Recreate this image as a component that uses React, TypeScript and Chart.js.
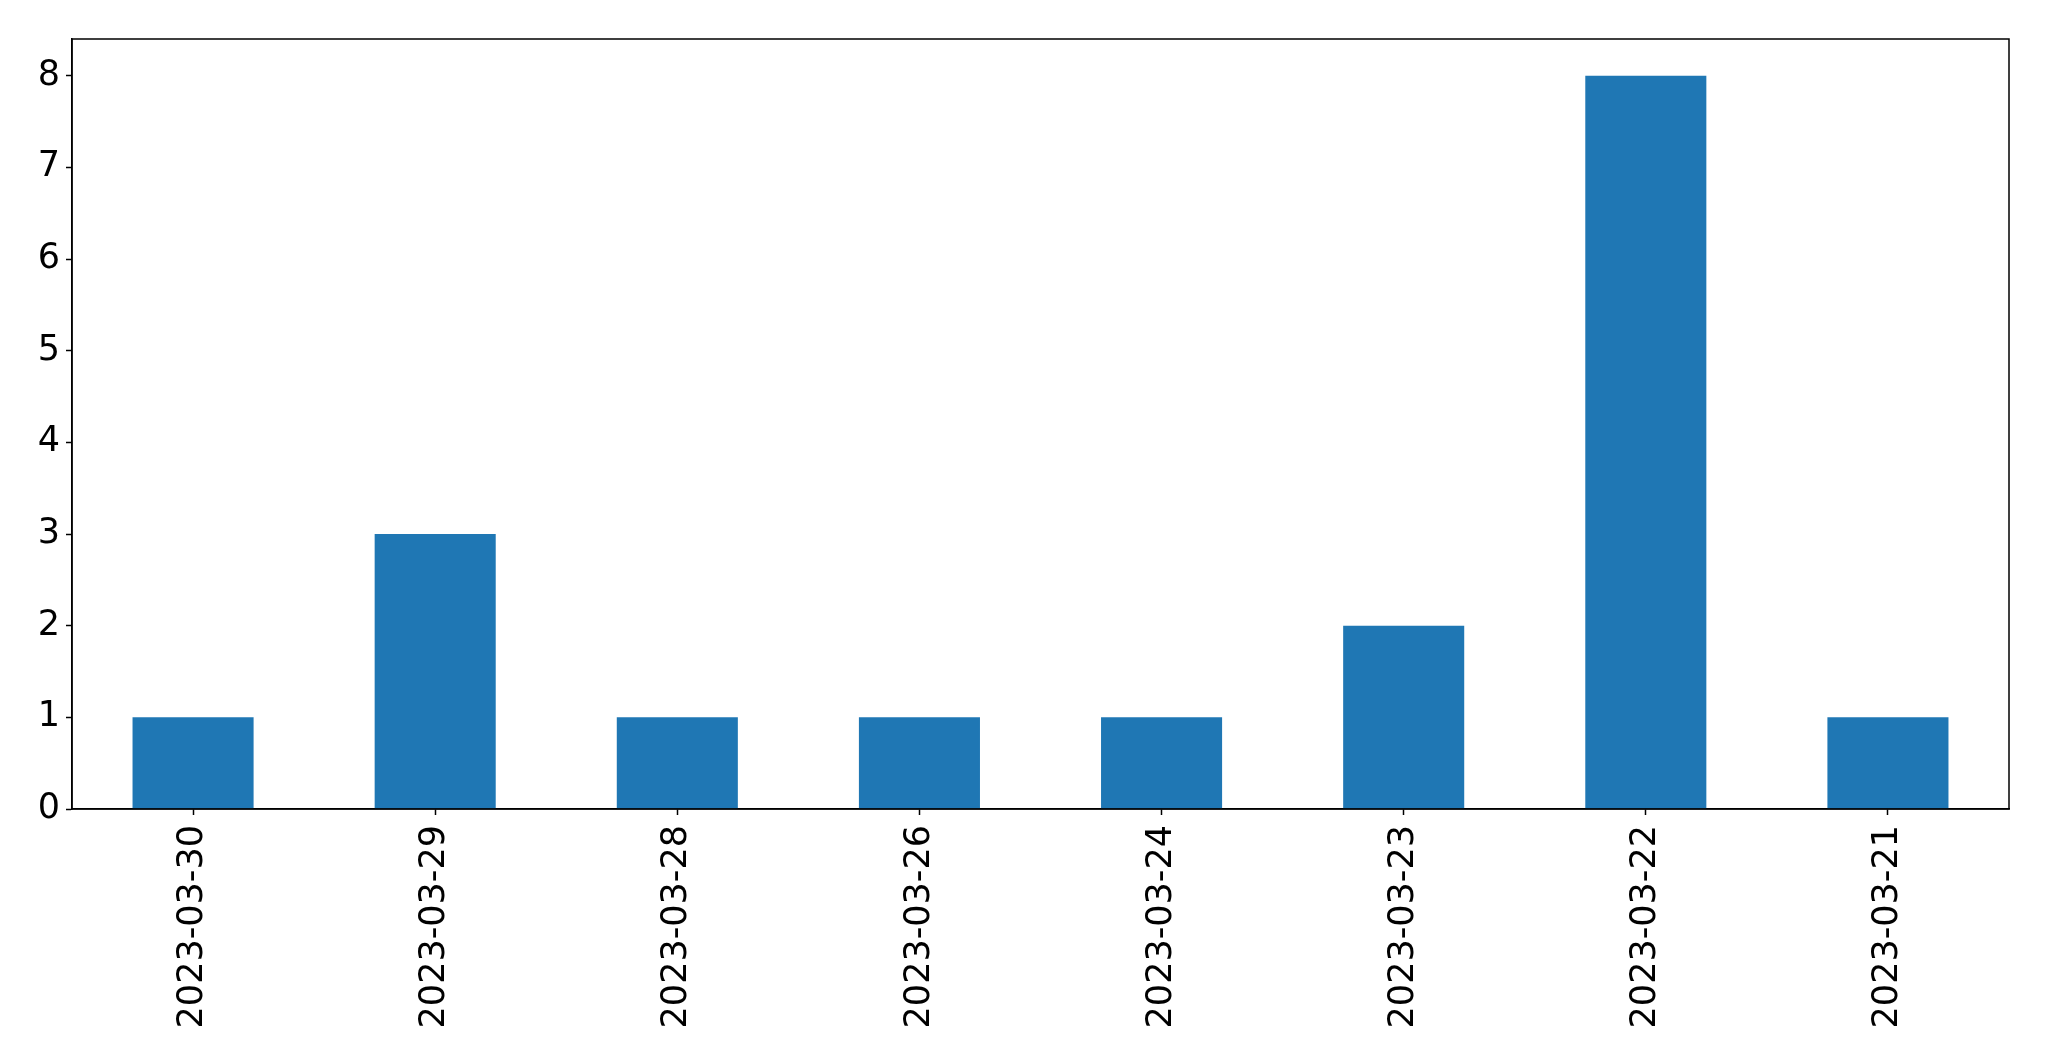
import React, { useEffect, useRef } from "react";
import { Chart, registerables } from "chart.js";

Chart.register(...registerables);

const categories = ["2023-03-30", "2023-03-29", "2023-03-28", "2023-03-26", "2023-03-24", "2023-03-23", "2023-03-22", "2023-03-21"];
const counts = [1, 3, 1, 1, 1, 2, 8, 1];
const yTicks = [0, 1, 2, 3, 4, 5, 6, 7, 8];

const framePlugin = {
  id: "frame",
  afterDraw(chart: any) {
    const { ctx, chartArea } = chart;
    ctx.save();
    ctx.strokeStyle = "#000";
    ctx.lineWidth = 1.5;
    ctx.strokeRect(chartArea.left, chartArea.top, chartArea.right - chartArea.left, chartArea.bottom - chartArea.top);
    ctx.restore();
  },
};

export default function App() {
  const ref = useRef<HTMLCanvasElement>(null);
  useEffect(() => {
    document.body.style.margin = "0";
    const font = { family: "DejaVu Sans", size: 35 };
    const chart = new Chart(ref.current!, {
      type: "bar",
      data: {
        labels: categories,
        datasets: [{ data: counts, backgroundColor: "#1f77b4", barPercentage: 0.5, categoryPercentage: 1 }],
      },
      options: {
        animation: false,
        responsive: false,
        devicePixelRatio: 1,
        layout: { padding: { top: 39, right: 40, left: 0, bottom: 0 } },
        plugins: { legend: { display: false }, tooltip: { enabled: false } },
        scales: {
          x: {
            offset: true,
            grid: { display: true, drawOnChartArea: false, tickLength: 6, tickColor: "#000", tickWidth: 1.5, offset: false },
            border: { display: true, color: "#000", width: 1.5 },
            ticks: { color: "#000", font, minRotation: 90, maxRotation: 90, padding: 10, autoSkip: false },
            afterFit(scale: any) { scale.height = 252; },
          },
          y: {
            min: 0,
            max: 8.4,
            afterBuildTicks(scale: any) { scale.ticks = yTicks.map((v) => ({ value: v })); },
            grid: { display: true, drawOnChartArea: false, tickLength: 6, tickColor: "#000", tickWidth: 1.5 },
            border: { display: true, color: "#000", width: 1.5 },
            ticks: { color: "#000", font, padding: 6 },
            afterFit(scale: any) { scale.width = 72; },
          },
        },
      },
      plugins: [framePlugin],
    });
    return () => chart.destroy();
  }, []);
  return <canvas ref={ref} width={2049} height={1061} style={{ display: "block" }} />;
}
